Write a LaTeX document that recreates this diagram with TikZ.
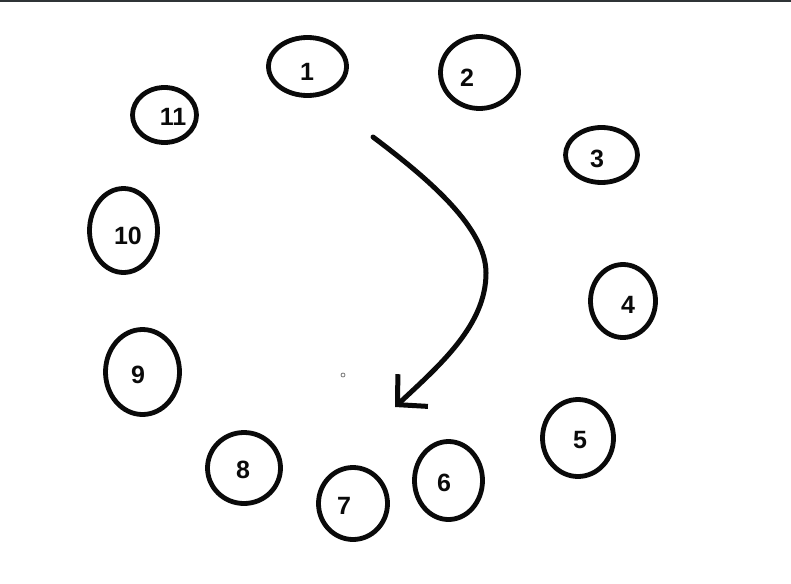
\documentclass[tikz,border=0pt]{standalone}
\usepackage{fontspec}
\setmainfont{Liberation Sans}
\usetikzlibrary{shapes.geometric, arrows.meta, positioning}
\definecolor{inkblack}{RGB}{10,10,10}
\definecolor{topline}{RGB}{47,52,54}
\definecolor{speck}{RGB}{120,120,120}

\begin{document}
\begin{tikzpicture}[
        x=1pt, y=-1pt,
        ring/.style={ellipse, draw=inkblack, line width=4.8pt, inner sep=0pt},
        num/.style={font=\fontsize{25}{27}\selectfont\bfseries, text=inkblack, inner sep=0pt},
        flow/.style={line width=5pt, inkblack, line cap=round, -{Straight Barb[length=21pt, width=44pt, line width=5pt]}}
    ]
        \useasboundingbox (0,0) rectangle (791,583);
        \draw[topline, line width=2.5pt] (0,1) -- (791,1);

        % the eleven rings, clockwise from the top
        \node[ring, minimum width=78pt, minimum height=58pt] (r1) at (307.5,66.5) {};
        \node[ring, minimum width=78pt, minimum height=72pt] (r2) at (479.5,72.5) {};
        \node[ring, minimum width=72pt, minimum height=55pt] (r3) at (601.5,155) {};
        \node[ring, minimum width=65pt, minimum height=73pt] (r4) at (623,301) {};
        \node[ring, minimum width=71pt, minimum height=77pt] (r5) at (578,438) {};
        \node[ring, minimum width=68pt, minimum height=78pt] (r6) at (448.5,480.5) {};
        \node[ring, minimum width=69pt, minimum height=72pt] (r7) at (353,503.5) {};
        \node[ring, minimum width=73pt, minimum height=71pt] (r8) at (244,468) {};
        \node[ring, minimum width=74pt, minimum height=85pt] (r9) at (142.5,372) {};
        \node[ring, minimum width=68pt, minimum height=84pt] (r10) at (123.5,230.5) {};
        \node[ring, minimum width=64pt, minimum height=55pt] (r11) at (164.5,115) {};

        % numbers, slightly off centre as in the sketch
        \node[num] (n1) at (307,72) {1};
        \node[num] (n2) at (467,78) {2};
        \node[num] (n3) at (597,159) {3};
        \node[num] (n4) at (628,305) {4};
        \node[num] (n5) at (580,440) {5};
        \node[num] (n6) at (444,483) {6};
        \node[num] (n7) at (344,506) {7};
        \node[num] (n8) at (243,470) {8};
        \node[num] (n9) at (138,375) {9};
        \node[num] (n10) at (128,236) {10};
        \node[num] (n11) at (173,117) {11};

        \node[circle, draw=speck, line width=0.8pt, minimum size=4pt, inner sep=0pt] (mark) at (343,375) {};

        % clockwise arrow
        \coordinate (start) at (373,137);
        \coordinate (bend) at (486,273);
        \coordinate (tip) at (395,407);
        \draw[flow] (start) .. controls (430,180) and (486,228) .. (bend)
            .. controls (486,325) and (440,365) .. (tip);
    \end{tikzpicture}
\end{document}
